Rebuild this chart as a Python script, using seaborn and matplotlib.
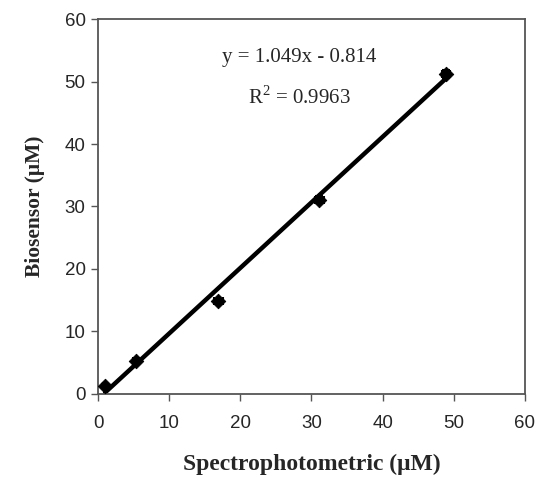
import numpy as np
import matplotlib.pyplot as plt
import seaborn as sns

# values
spectro = [1.0, 5.3, 16.9, 31.1, 48.9]
biosensor = [1.3, 5.2, 14.8, 31.1, 51.2]
x_err = [0.3, 0.4, 0.6, 0.6, 0.6]
y_err = [0.3, 0.4, 0.3, 0.5, 0.7]
slope = 1.049
intercept = -0.814
eq_text = "y = 1.049x - 0.814"
r2_text = "R$^{2}$ = 0.9963"

sns.set_style("ticks")
plt.rcParams['font.family'] = ['Liberation Sans', 'DejaVu Sans']
plt.rcParams['mathtext.fontset'] = 'custom'
plt.rcParams['mathtext.rm'] = 'Liberation Serif'

fig = plt.figure(figsize=(5.37, 4.79), dpi=100)
ax = fig.add_axes([0.1825, 0.1775, 0.795, 0.7828])

# trend line over the range of the data
fit_x = np.array([min(spectro), max(spectro)])
sns.lineplot(x=fit_x, y=slope * fit_x + intercept, ax=ax, color='black', lw=3.2)

ax.errorbar(spectro, biosensor, xerr=x_err, yerr=y_err, fmt='none',
            ecolor='black', elinewidth=1.5, capsize=3, capthick=1.5)
sns.scatterplot(x=spectro, y=biosensor, ax=ax, marker='D', s=55,
                color='black', edgecolor='black', zorder=5)

ax.set_xlim(0, 60)
ax.set_ylim(0, 60)
ax.set_xticks(range(0, 61, 10))
ax.set_yticks(range(0, 61, 10))
ax.tick_params(labelsize=13.5, color='#555555', length=5, width=1, pad=4)
ax.tick_params(axis='x', pad=10)
for s in ax.spines.values():
    s.set_visible(True)
    s.set_color('#555555')
    s.set_linewidth(1.3)

ax.set_xlabel('Spectrophotometric (\u03bcM)', family='Liberation Serif',
              fontsize=17, fontweight='bold', labelpad=16)
ax.set_ylabel('Biosensor (\u03bcM)', family='Liberation Serif',
              fontsize=15.5, fontweight='bold', labelpad=14)

ax.text(28.3, 53.8, eq_text, family='Liberation Serif', fontsize=15,
        ha='center', va='center')
ax.text(28.3, 47.4, r2_text, family='Liberation Serif', fontsize=15,
        ha='center', va='center')

fig.savefig('out.png', dpi=100)
